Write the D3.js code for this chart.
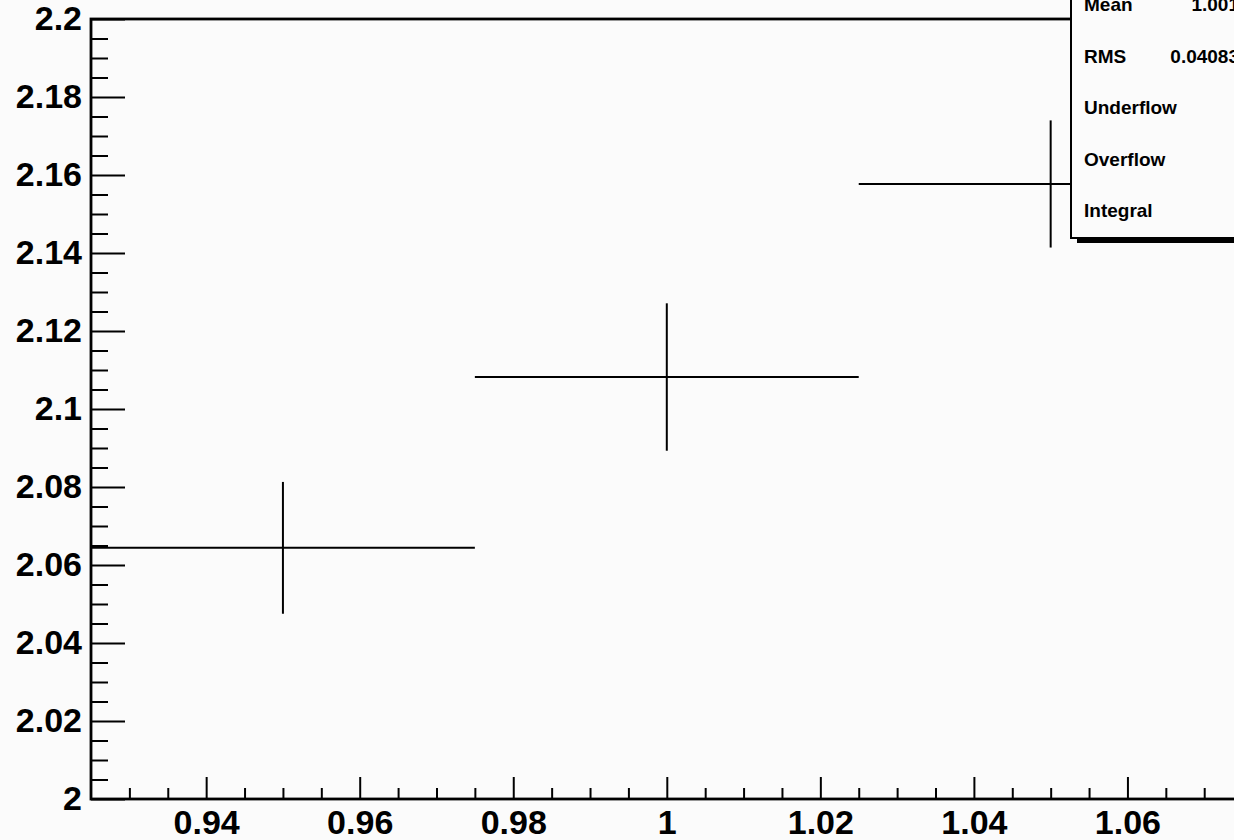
<!DOCTYPE html>
<html>
<head>
<meta charset="utf-8">
<script src="https://cdn.jsdelivr.net/npm/d3@7"></script>
<style>
  body { margin: 0; background: #fbfbfb; overflow: hidden; }
  svg { display: block; }
  text { font-family: "Liberation Sans", Arial, sans-serif; font-weight: bold; fill: #000; }
</style>
</head>
<body>
<div id="chart"></div>
<script>
// bins (low edge, high edge), contents and errors
var binLow = [0.925, 0.975, 1.025];
var binHigh = [0.975, 1.025, 1.075];
var binContent = [2.0644, 2.1082, 2.1577];
var binError = [0.0169, 0.0189, 0.0163];

var xTicks = [0.94, 0.96, 0.98, 1.0, 1.02, 1.04, 1.06];
var yTicks = [2.0, 2.02, 2.04, 2.06, 2.08, 2.1, 2.12, 2.14, 2.16, 2.18, 2.2];

var statLabels = ["Mean", "RMS", "Underflow", "Overflow", "Integral"];
var statValues = ["1.001", "0.04083", "", "", ""];

var width = 1234, height = 840;
var margin = {top: 19, left: 91, bottom: 41};

var svg = d3.select("#chart")
  .append("svg")
    .attr("width", width)
    .attr("height", height);

var x = d3.scaleLinear()
    .domain([0.925, 1.075])
    .range([margin.left, 1242.6]);

var y = d3.scaleLinear()
    .domain([2.0, 2.2])
    .range([height - margin.bottom, margin.top]);

// frame
svg.append("rect")
    .attr("x", x(0.925))
    .attr("y", y(2.2))
    .attr("width", x(1.075) - x(0.925))
    .attr("height", y(2.0) - y(2.2))
    .attr("fill", "none")
    .attr("stroke", "#000")
    .attr("stroke-width", 2.8);

// minor ticks
var xMinor = d3.range(0.93, 1.0751, 0.005).filter(function(v) { return Math.abs(v * 50 - Math.round(v * 50)) > 1e-6; });
var yMinor = d3.range(2.005, 2.2, 0.005).filter(function(v) { return Math.abs(v * 50 - Math.round(v * 50)) > 1e-6; });

svg.append("g")
    .attr("transform", "translate(0," + y(2.0) + ")")
    .call(d3.axisBottom(x).tickValues(xMinor).tickSizeInner(-11).tickSizeOuter(0).tickFormat(""))
    .call(function(g) { g.select(".domain").remove(); })
    .selectAll("line").attr("stroke-width", 2);

svg.append("g")
    .attr("transform", "translate(" + x(0.925) + ",0)")
    .call(d3.axisLeft(y).tickValues(yMinor).tickSizeInner(-17).tickSizeOuter(0).tickFormat(""))
    .call(function(g) { g.select(".domain").remove(); })
    .selectAll("line").attr("stroke-width", 2);

// major ticks + labels
var xAxis = svg.append("g")
    .attr("transform", "translate(0," + y(2.0) + ")")
    .call(d3.axisBottom(x).tickValues(xTicks).tickSizeInner(-22).tickSizeOuter(0).tickPadding(11)
      .tickFormat(function(d) { return d3.format("")(+d.toFixed(2)); }));
xAxis.select(".domain").remove();
xAxis.selectAll("line").attr("stroke-width", 2);
xAxis.selectAll("text").attr("font-size", 34).attr("font-family", null);

var yAxis = svg.append("g")
    .attr("transform", "translate(" + x(0.925) + ",0)")
    .call(d3.axisLeft(y).tickValues(yTicks).tickSizeInner(-34).tickSizeOuter(0).tickPadding(9)
      .tickFormat(function(d) { return d3.format("")(+d.toFixed(2)); }));
yAxis.select(".domain").remove();
yAxis.selectAll("line").attr("stroke-width", 2);
yAxis.selectAll("text").attr("font-size", 34).attr("font-family", null);

// histogram points with error bars
var bins = binContent.map(function(c, i) {
  return {lo: binLow[i], hi: binHigh[i], c: c, e: binError[i]};
});

var pts = svg.append("g");
pts.selectAll(".hbar")
  .data(bins)
  .enter()
  .append("line")
    .attr("x1", function(d) { return x(d.lo); })
    .attr("x2", function(d) { return x(d.hi); })
    .attr("y1", function(d) { return y(d.c); })
    .attr("y2", function(d) { return y(d.c); })
    .attr("stroke", "#000")
    .attr("stroke-width", 2);
pts.selectAll(".vbar")
  .data(bins)
  .enter()
  .append("line")
    .attr("x1", function(d) { return x((d.lo + d.hi) / 2); })
    .attr("x2", function(d) { return x((d.lo + d.hi) / 2); })
    .attr("y1", function(d) { return y(d.c + d.e); })
    .attr("y2", function(d) { return y(d.c - d.e); })
    .attr("stroke", "#000")
    .attr("stroke-width", 2);

// stats box
var box = {x: 1071, y: -60, w: 240, h: 298};
svg.append("rect")
    .attr("x", box.x + 6)
    .attr("y", box.y + 5)
    .attr("width", box.w)
    .attr("height", box.h)
    .attr("fill", "#000");
svg.append("rect")
    .attr("x", box.x)
    .attr("y", box.y)
    .attr("width", box.w)
    .attr("height", box.h)
    .attr("fill", "#fbfbfb")
    .attr("stroke", "#000")
    .attr("stroke-width", 2);

var rows = svg.append("g");
statLabels.forEach(function(lab, i) {
  var by = 11 + i * 51.5;
  rows.append("text")
      .attr("x", 1084)
      .attr("y", by)
      .attr("font-size", 19)
      .text(lab);
  rows.append("text")
      .attr("x", 1239)
      .attr("y", by)
      .attr("font-size", 19)
      .attr("text-anchor", "end")
      .text(statValues[i]);
});
</script>
</body>
</html>
